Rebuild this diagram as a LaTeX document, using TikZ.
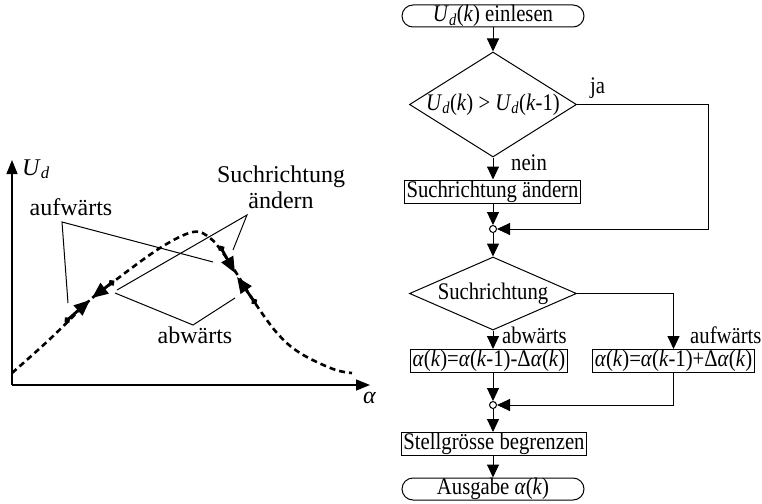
\documentclass[tikz,border=0pt]{standalone}
\usepackage{fontspec}
\setmainfont{Liberation Serif}
\usetikzlibrary{arrows.meta,shapes.geometric}
\newcommand{\Ud}{\textit{U}\textsubscript{\textit{d}}}
\newcommand{\vs}[1]{\scalebox{1}[1.15]{#1}}
\begin{document}
\begin{tikzpicture}[x=1pt,y=-1pt,
  every node/.style={font=\fontsize{20.7}{24}\selectfont},
  flow/.style={line width=1pt,-{Triangle[length=13pt,width=12pt]}},
  ln/.style={line width=1pt},
  box/.style={draw,line width=1pt,inner xsep=2pt,inner ysep=0pt,minimum height=23pt},
  term/.style={draw,line width=1pt,rounded corners=11pt,minimum width=182pt,minimum height=22pt,inner sep=0pt},
  dia/.style={draw,diamond,line width=1pt,inner sep=0pt,minimum width=167pt},
  junc/.style={circle,draw,fill=white,line width=1pt,inner sep=0pt,minimum size=7pt},
  lbl/.style={font=\fontsize{24}{26}\selectfont},
  elbl/.style={anchor=base west,inner sep=0pt},
  tarrow/.style={line width=2.8pt,{Circle[length=6pt]}-{Triangle[length=16pt,width=13pt]}},
  axis/.style={line width=1.3pt,-{Triangle[length=14pt,width=11pt]}},
]
\useasboundingbox (0,0) rectangle (762,503);

% ---------- flowchart ----------
\node[term] (t1) at (493,16) {\vs{\Ud(\textit{k}) einlesen}};
\node[dia,minimum height=105pt] (d1) at (493,104.5) {};
\node (d1t) at (d1.center) {\vs{\Ud(\textit{k}) > \Ud(\textit{k}-1)}};
\node[box] (b1) at (492.5,191.5) {\vs{Suchrichtung ändern}};
\node[junc] (j1) at (493,229) {};
\node[dia,minimum height=73pt] (d2) at (493,293.5) {};
\node (d2t) at (d2.center) {\vs{Suchrichtung}};
\node[box] (b2) at (489,361) {\vs{\textit{α}(\textit{k})=\textit{α}(\textit{k}-1)-Δ\textit{α}(\textit{k})}};
\node[box] (b3) at (673.5,361) {\vs{\textit{α}(\textit{k})=\textit{α}(\textit{k}-1)+Δ\textit{α}(\textit{k})}};
\node[junc] (j2) at (493,405) {};
\node[box] (b4) at (494,444) {\vs{Stellgrösse begrenzen}};
\node[term] (t2) at (493,489) {\vs{Ausgabe \textit{α}(\textit{k})}};

\coordinate (c1) at (708,104.5);
\coordinate (c2) at (673.5,293.5);

\node[elbl] (ja) at (590,93) {\vs{ja}};
\node[elbl] (nein) at (511,170) {\vs{nein}};
\node[elbl] (abl) at (502,343) {\vs{abwärts}};
\node[elbl] (aul) at (690,343) {\vs{aufwärts}};

\draw[flow] (t1) -- (d1);
\draw[flow] (d1.south) -- (d1.south |- b1.north);
\draw[flow] (b1.south -| j1) -- (j1);
\draw[flow] (d1.east) -- (c1) |- (j1.east);
\draw[flow] (j1) -- (d2);
\draw[flow] (d2.south) -- (d2.south |- b2.north);
\draw[flow] (d2.east) -- (c2) -- (b3.north -| c2);
\draw[flow] (b2.south -| j2) -- (j2);
\draw[flow] (b3.south -| c2) |- (j2.east);
\draw[flow] (j2) -- (j2 |- b4.north);
\draw[flow] (b4.south -| t2) -- (t2);

% ---------- plot ----------
\coordinate (O) at (12,385);
\coordinate (ytop) at (12,160);
\coordinate (xend) at (370,385);
\draw[axis] (O) -- (ytop);
\draw[axis] (O) -- (xend);
\node[lbl,anchor=base west,inner sep=0pt] (ud) at (22,175) {\Ud};
\node[lbl,anchor=base west,inner sep=0pt] (al) at (363,403) {\textit{α}};

\draw[line width=2.6pt,dash pattern=on 6pt off 4pt]
  plot[smooth,tension=0.6] coordinates {(12,373) (50,339) (90,300) (113,282) (160,248) (193,232) (210,238) (223,253) (237,274) (253,300) (277,333) (300,353) (333,369) (352,373)};

\coordinate (a1s) at (65,322); \coordinate (a1e) at (90,300);
\coordinate (a2s) at (114,281); \coordinate (a2e) at (92,298);
\coordinate (a3s) at (220,246); \coordinate (a3e) at (235,273);
\coordinate (a4s) at (256,304); \coordinate (a4e) at (237,277);
\draw[tarrow] (a1s) -- (a1e);
\draw[tarrow] (a2s) -- (a2e);
\draw[tarrow] (a3s) -- (a3e);
\draw[tarrow] (a4s) -- (a4e);

\node[lbl,anchor=base,inner sep=0pt] (auf) at (71,215) {aufwärts};
\node[lbl,anchor=base,inner sep=0pt] (such) at (281,182) {Suchrichtung};
\node[lbl,anchor=base,inner sep=0pt] (such2) at (281,208) {ändern};
\node[lbl,anchor=base,inner sep=0pt] (abw) at (195,343) {abwärts};

\coordinate (auf0) at (62,222);
\coordinate (such0) at (247,215);
\coordinate (abw0) at (193,325);
\draw[ln] (68,303) -- (auf0) -- (213,262);
\draw[ln] (117,290) -- (such0) -- (233,250);
\draw[ln] (115,293) -- (abw0) -- (235,298);
\end{tikzpicture}
\end{document}
